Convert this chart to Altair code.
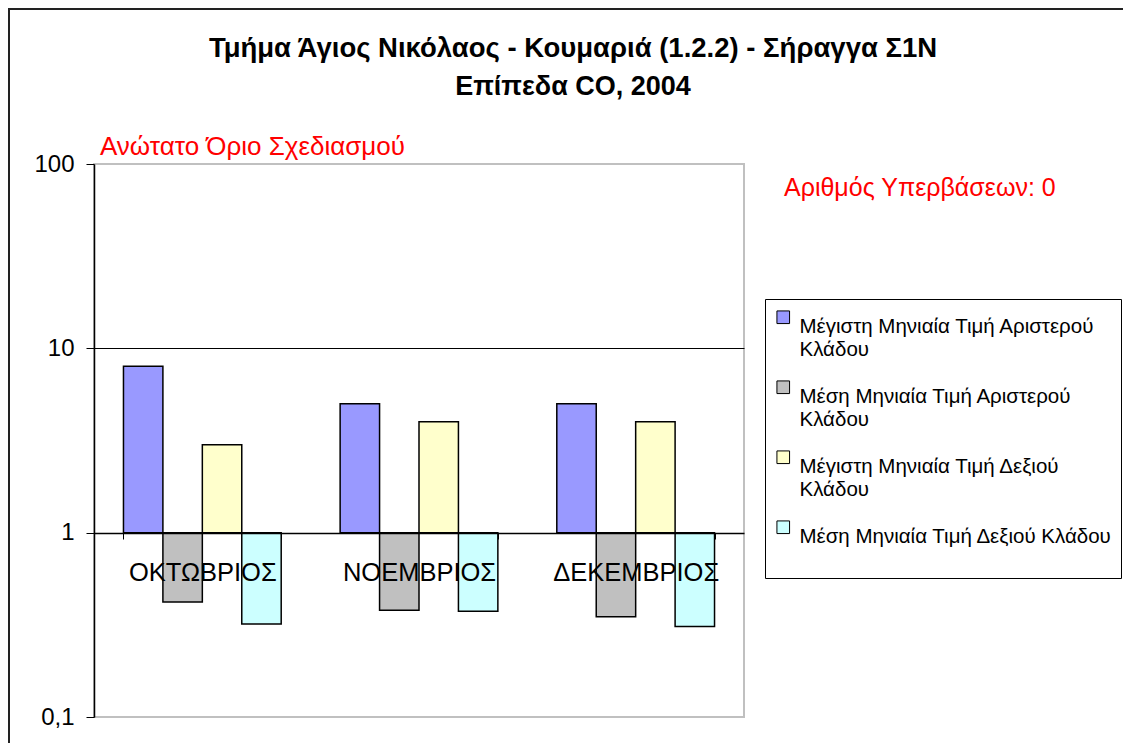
import altair as alt
import pandas as pd

months = ["ΟΚΤΩΒΡΙΟΣ", "ΝΟΕΜΒΡΙΟΣ", "ΔΕΚΕΜΒΡΙΟΣ"]
series = [
    "Μέγιστη Μηνιαία Τιμή Αριστερού Κλάδου",
    "Μέση Μηνιαία Τιμή Αριστερού Κλάδου",
    "Μέγιστη Μηνιαία Τιμή Δεξιού Κλάδου",
    "Μέση Μηνιαία Τιμή Δεξιού Κλάδου",
]
max_left = [8, 5, 5]
mean_left = [0.42, 0.38, 0.35]
max_right = [3, 4, 4]
mean_right = [0.32, 0.375, 0.31]
colors = ["#9999FF", "#C0C0C0", "#FFFFCC", "#CCFFFF"]
y_ticks = [0.1, 1, 10, 100]
title_lines = ["Τμήμα Άγιος Νικόλαος - Κουμαριά (1.2.2) - Σήραγγα Σ1Ν", "Επίπεδα CO, 2004"]
limit_label = "Ανώτατο Όριο Σχεδιασμού"
exceed_label = "Αριθμός Υπερβάσεων: 0"

FONT = "Liberation Sans"
W, H = 650, 553

rows = []
for vals, s in zip([max_left, mean_left, max_right, mean_right], series):
    for m, v in zip(months, vals):
        rows.append({"month": m, "series": s, "value": v})
df = pd.DataFrame(rows)

bars = alt.Chart(df).mark_bar(stroke="black", strokeWidth=1.5).encode(
    x=alt.X(
        "month:N",
        sort=months,
        scale=alt.Scale(paddingInner=0.272, paddingOuter=0.136),
        axis=alt.Axis(
            title=None, orient="bottom", offset=-184, tickBand="extent",
            labelAngle=0, labelFontSize=25.5, labelFont=FONT, labelPadding=21,
            tickSize=6, domainColor="black", tickColor="black", labelColor="black",
            domainWidth=1.5, zindex=1, grid=False,
        ),
    ),
    xOffset=alt.XOffset("series:N", sort=series, scale=alt.Scale(paddingInner=0, paddingOuter=0)),
    y=alt.Y(
        "value:Q",
        scale=alt.Scale(type="log", domain=[0.1, 100], nice=False),
        axis=alt.Axis(
            values=y_ticks, title=None,
            labelExpr="datum.value < 0.5 ? '0,1' : datum.label",
            labelFontSize=24, labelFont=FONT, labelColor="black", labelPadding=12,
            tickSize=8, tickColor="black", domainColor="black", domainWidth=1.5,
            grid=True,
            gridColor={"condition": {"test": "datum.value == 10", "value": "black"}, "value": "#c0c0c0"},
            gridWidth=1.2,
        ),
    ),
    y2=alt.datum(1),
    color=alt.Color(
        "series:N",
        sort=series,
        scale=alt.Scale(domain=series, range=colors),
        legend=alt.Legend(
            orient="none", legendX=671, legendY=135, direction="vertical",
            title=" ", titleOrient="bottom", titleFontSize=16, titlePadding=6,
            labelFontSize=20.5, labelFont=FONT, labelColor="black", labelLimit=500,
            labelExpr="length(datum.label) > 32 ? [slice(datum.label, 0, lastindexof(datum.label, ' ')), 'Κλάδου'] : datum.label",
            labelBaseline="top", labelOffset=6,
            symbolType="square", symbolSize=160, symbolStrokeColor="black", symbolStrokeWidth=1,
            strokeColor="black", fillColor="white", padding=8, rowPadding=16,
        ),
    ),
)

texts = pd.DataFrame({"t": [0]})
frame = alt.Chart(texts).mark_rect(fillOpacity=0, stroke="#222222", strokeWidth=2).encode(
    x=alt.value(-85), x2=alt.value(1300), y=alt.value(-155), y2=alt.value(900)
)
t1 = alt.Chart(texts).mark_text(text=title_lines[0], font=FONT, fontSize=27.5, fontWeight="bold",
                                align="center", baseline="alphabetic", color="black").encode(
    x=alt.value(479), y=alt.value(-107))
t2 = alt.Chart(texts).mark_text(text=title_lines[1], font=FONT, fontSize=27, fontWeight="bold",
                                align="center", baseline="alphabetic", color="black").encode(
    x=alt.value(479), y=alt.value(-69))
r1 = alt.Chart(texts).mark_text(text=limit_label, font=FONT, fontSize=26,
                                align="left", baseline="alphabetic", color="#FF0000").encode(
    x=alt.value(6), y=alt.value(-9))
r2 = alt.Chart(texts).mark_text(text=exceed_label, font=FONT, fontSize=25,
                                align="left", baseline="alphabetic", color="#FF0000").encode(
    x=alt.value(690), y=alt.value(32))

chart = alt.layer(frame, bars, t1, t2, r1, r2).properties(
    width=W, height=H,
    autosize=alt.AutoSizeParams(type="none"),
    padding={"left": 86, "top": 156, "right": 379, "bottom": 26},
    background="white",
).configure_view(stroke="#c0c0c0", strokeWidth=2)

chart.save("out.html", embed_options={"renderer": "svg", "actions": False})
